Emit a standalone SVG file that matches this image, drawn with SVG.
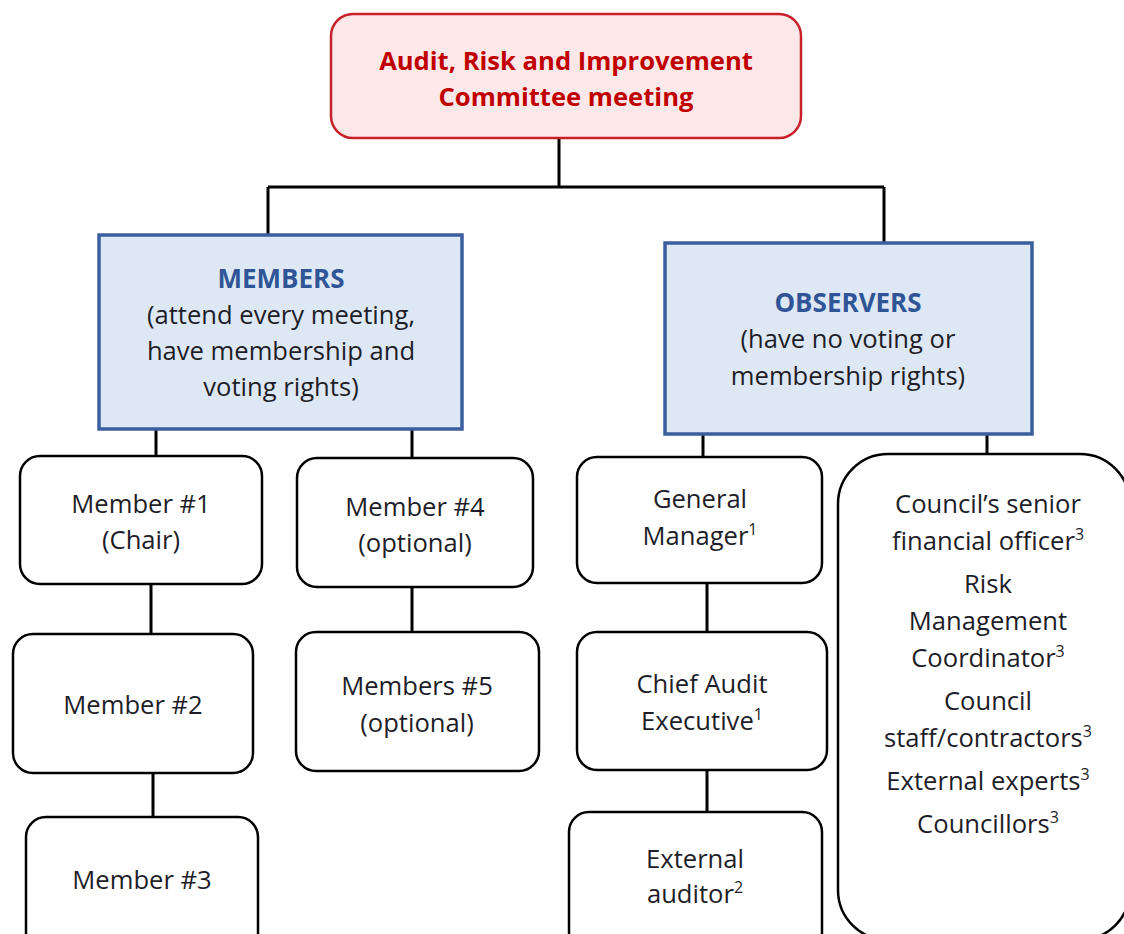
<svg xmlns="http://www.w3.org/2000/svg" width="1124" height="934" viewBox="0 0 1124 934">
<style>
.box{fill:#ffffff;stroke:#000000;stroke-width:2.5}
.grp{fill:#dee8f4;stroke:#3a5e9e;stroke-width:3.5}
.t{font-family:"Open Sans","Noto Sans",sans-serif;font-size:25.6px;fill:#1e1e28;text-anchor:middle}
.h{font-family:"Open Sans","Noto Sans",sans-serif;font-size:26px;font-weight:bold;fill:#2f5597;text-anchor:middle}
.r{font-family:"Open Sans","Noto Sans",sans-serif;font-size:25.6px;font-weight:bold;fill:#c00000;text-anchor:middle}
.sup{font-size:16px}
.c{stroke:#000000;stroke-width:3;fill:none}
</style>
<rect width="1124" height="934" fill="#ffffff"/>
<g id="connectors">
<path class="c" d="M559 138V187M268 187H884M268 187V235M884 187V242"/>
<path class="c" d="M156 429V456M412 429V458M703 434V457M987 434V455"/>
<path class="c" d="M151 584V634M153 773V817M412 587V632M707 583V632M707 770V812"/>
</g>
<g id="top">
<rect x="331" y="14" width="470" height="124" rx="22" fill="#fde8e9" stroke="#c8202a" stroke-width="2.5"/>
<text class="r" x="566" y="70">Audit, Risk and Improvement</text>
<text class="r" x="566" y="106">Committee meeting</text>
</g>
<g id="members">
<rect class="grp" x="99" y="235" width="363" height="194"/>
<text class="h" x="281" y="288">MEMBERS</text>
<text class="t" x="281" y="324">(attend every meeting,</text>
<text class="t" x="281" y="360">have membership and</text>
<text class="t" x="281" y="396">voting rights)</text>
</g>
<g id="observers">
<rect class="grp" x="665" y="243" width="367" height="191"/>
<text class="h" x="848" y="312">OBSERVERS</text>
<text class="t" x="848" y="348">(have no voting or</text>
<text class="t" x="848" y="385">membership rights)</text>
</g>
<g id="member1">
<rect class="box" x="20" y="456" width="242" height="128" rx="20"/>
<text class="t" x="141" y="513">Member #1</text>
<text class="t" x="141" y="549">(Chair)</text>
</g>
<g id="member2">
<rect class="box" x="13" y="634" width="240" height="139" rx="20"/>
<text class="t" x="133" y="714">Member #2</text>
</g>
<g id="member3">
<rect class="box" x="26" y="817" width="232" height="140" rx="20"/>
<text class="t" x="142" y="889">Member #3</text>
</g>
<g id="member4">
<rect class="box" x="297" y="458" width="236" height="129" rx="20"/>
<text class="t" x="415" y="516">Member #4</text>
<text class="t" x="415" y="552">(optional)</text>
</g>
<g id="member5">
<rect class="box" x="296" y="632" width="243" height="139" rx="20"/>
<text class="t" x="417" y="695">Members #5</text>
<text class="t" x="417" y="732">(optional)</text>
</g>
<g id="general-manager">
<rect class="box" x="577" y="457" width="245" height="126" rx="20"/>
<text class="t" x="700" y="508">General</text>
<text class="t" x="700" y="545">Manager<tspan class="sup" dy="-10">1</tspan></text>
</g>
<g id="chief-audit-executive">
<rect class="box" x="577" y="632" width="250" height="138" rx="20"/>
<text class="t" x="702" y="693">Chief Audit</text>
<text class="t" x="702" y="730">Executive<tspan class="sup" dy="-10">1</tspan></text>
</g>
<g id="external-auditor">
<rect class="box" x="569" y="812" width="253" height="140" rx="20"/>
<text class="t" x="695" y="868">External</text>
<text class="t" x="695" y="903">auditor<tspan class="sup" dy="-10">2</tspan></text>
</g>
<g id="observer-list">
<rect class="box" x="838" y="454" width="292" height="486" rx="50"/>
<text class="t" x="988" y="513">Council’s senior</text>
<text class="t" x="988" y="550">financial officer<tspan class="sup" dy="-10">3</tspan></text>
<text class="t" x="988" y="593">Risk</text>
<text class="t" x="988" y="630">Management</text>
<text class="t" x="988" y="667">Coordinator<tspan class="sup" dy="-10">3</tspan></text>
<text class="t" x="988" y="710">Council</text>
<text class="t" x="988" y="747">staff/contractors<tspan class="sup" dy="-10">3</tspan></text>
<text class="t" x="988" y="790">External experts<tspan class="sup" dy="-10">3</tspan></text>
<text class="t" x="988" y="833">Councillors<tspan class="sup" dy="-10">3</tspan></text>
</g>
</svg>
